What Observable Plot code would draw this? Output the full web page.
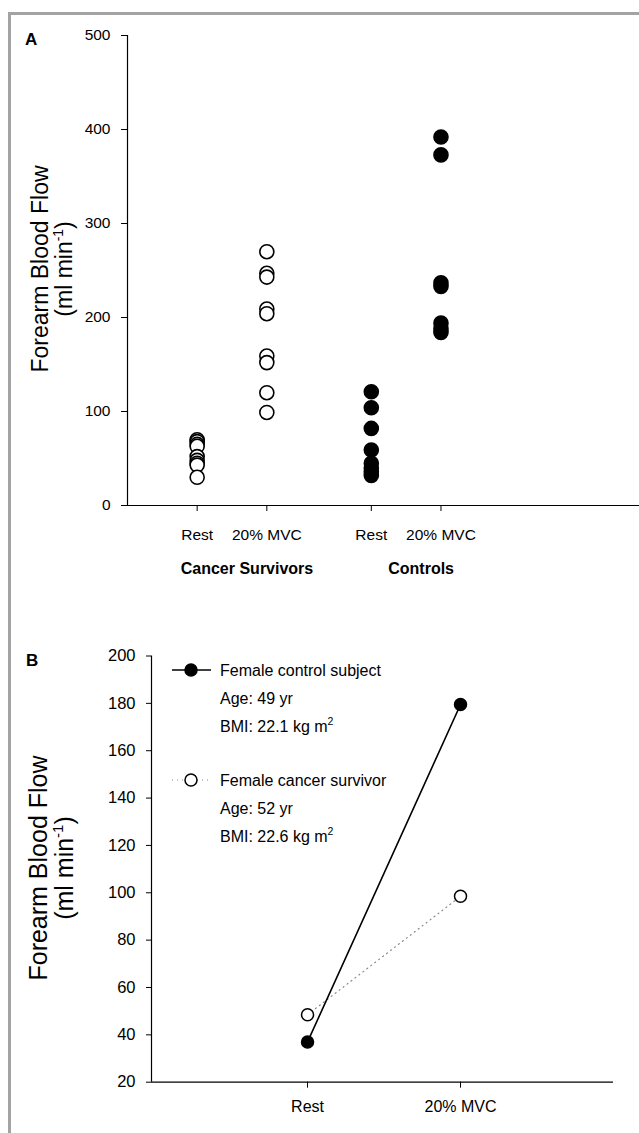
<!DOCTYPE html>
<html><head><meta charset="utf-8">
<script src="https://cdn.jsdelivr.net/npm/d3@7"></script>
<script src="https://cdn.jsdelivr.net/npm/@observablehq/plot@0.6"></script>
<style>
body{margin:0;background:#fff;font-family:"Liberation Sans",Arial,sans-serif}
#page{position:relative;width:639px;height:1133px;overflow:hidden;background:#fff}
#frame{position:absolute;left:8px;top:12px;width:700px;height:1200px;border-left:3px solid #a3a3a3;border-top:3px solid #a3a3a3;box-sizing:border-box}
#a,#b{position:absolute;left:0}
#a{top:0}#b{top:600px}
</style></head>
<body><div id="page"><div id="frame"></div><div id="a"></div><div id="b"></div></div>
<script>
// ---- Panel A data ----
const groups = ["Cancer Survivors", "Controls"];
const conditions = ["Rest", "20% MVC"];
const survivorsRest = [70, 68, 65, 63, 52, 48, 45, 43, 30];
const survivorsMVC = [270, 247, 243, 209, 204, 159, 152, 120, 99];
const controlsRest = [121, 104, 82, 59, 45, 40, 36, 32];
const controlsMVC = [392, 373, 237, 233, 194, 188, 184];
const yTicksA = [0, 100, 200, 300, 400, 500];

// ---- Panel B data ----
const conditionsB = ["Rest", "20% MVC"];
const controlSubject = [37, 179.5];
const survivorSubject = [48.5, 98.5];
const yTicksB = [20, 40, 60, 80, 100, 120, 140, 160, 180, 200];
const legendB = [
  {name: "Female control subject", age: "Age: 49 yr", bmi: "BMI: 22.1 kg m", filled: true},
  {name: "Female cancer survivor", age: "Age: 52 yr", bmi: "BMI: 22.6 kg m", filled: false}
];

const font = "'Liberation Sans', Arial, sans-serif";

function yLabel(svg, x, cy, size) {
  const g = d3.select(svg).append("g").attr("font-family", font).attr("fill", "black").attr("text-anchor", "middle");
  g.append("text").attr("transform", `translate(${x},${cy}) rotate(-90)`)
    .attr("font-size", size).text("Forearm Blood Flow");
  const t = g.append("text").attr("transform", `translate(${x + size * 1.05},${cy}) rotate(-90)`)
    .attr("font-size", size);
  t.append("tspan").text("(ml min");
  t.append("tspan").attr("font-size", size * 0.6).attr("dy", -size * 0.4).text("-1");
  t.append("tspan").attr("dy", size * 0.4).text(")");
}

// ---- Panel A ----
const valuesA = [[survivorsRest, survivorsMVC], [controlsRest, controlsMVC]];
const posOf = (gi, ci) => 1 + ci + 2.5 * gi;
const rowsA = [];
groups.forEach((g, gi) => conditions.forEach((c, ci) =>
  valuesA[gi][ci].forEach(v => rowsA.push({group: g, condition: c, value: v, pos: posOf(gi, ci), filled: gi === 1}))));
const tickPosA = [], tickLabA = new Map();
groups.forEach((g, gi) => conditions.forEach((c, ci) => { tickPosA.push(posOf(gi, ci)); tickLabA.set(posOf(gi, ci), c); }));
const groupRows = groups.map((g, gi) => ({group: g, pos: posOf(gi, 0) + 0.5}));

const chartA = Plot.plot({
  width: 639, height: 600,
  marginLeft: 127, marginRight: 0, marginTop: 35, marginBottom: 95,
  style: {fontFamily: font, fontSize: "15.5px", color: "black", background: "transparent", overflow: "visible"},
  x: {domain: [0, 7.35], axis: null},
  y: {domain: [0, 500], axis: null},
  marks: [
    Plot.axisY({ticks: yTicksA, tickSize: 6, tickPadding: 11, label: null, fontSize: 15.5}),
    Plot.axisX({ticks: tickPosA, tickFormat: d => tickLabA.get(d), tickSize: 6, tickPadding: 17, label: null, fontSize: 15.5}),
    Plot.ruleX([0], {stroke: "black", strokeWidth: 1.2}),
    Plot.ruleY([0], {stroke: "black", strokeWidth: 1.2}),
    Plot.text(groupRows, {x: "pos", y: 0, text: "group", dy: 63, dx: 15, fontWeight: "bold", fontSize: 16, fill: "black"}),
    Plot.dot(rowsA, {x: "pos", y: "value", r: 7, stroke: "black", strokeWidth: 1.6, fill: d => d.filled ? "black" : "white"})
  ]
});
document.getElementById("a").append(chartA);
d3.select(chartA).append("text").attr("x", 25).attr("y", 45).attr("font-family", font)
  .attr("text-anchor", "start").attr("font-weight", "bold").attr("font-size", 17).text("A");
yLabel(chartA, 48, 269, 23);

// ---- Panel B ----
const rowsB = [];
conditionsB.forEach((c, i) => {
  rowsB.push({subject: "control", condition: c, pos: i + 1, value: controlSubject[i]});
  rowsB.push({subject: "survivor", condition: c, pos: i + 1, value: survivorSubject[i]});
});
const ctrl = rowsB.filter(d => d.subject === "control");
const surv = rowsB.filter(d => d.subject === "survivor");

const chartB = Plot.plot({
  width: 639, height: 533,
  marginLeft: 151, marginRight: 26, marginTop: 55.5, marginBottom: 51.3,
  style: {fontFamily: font, fontSize: "16.5px", color: "black", background: "transparent", overflow: "visible"},
  x: {domain: [-0.02, 3], axis: null},
  y: {domain: [20, 200], axis: null},
  marks: [
    Plot.axisY({ticks: yTicksB, tickSize: 5, tickPadding: 11, label: null, fontSize: 16.5}),
    Plot.axisX({ticks: [1, 2], tickFormat: d => conditionsB[d - 1], tickSize: 6, tickPadding: 12, label: null, fontSize: 16}),
    Plot.ruleX([-0.02], {stroke: "black", strokeWidth: 1.2}),
    Plot.ruleY([20], {stroke: "black", strokeWidth: 1.2}),
    Plot.line(surv, {x: "pos", y: "value", stroke: "#888", strokeWidth: 1.2, strokeDasharray: "1,4"}),
    Plot.line(ctrl, {x: "pos", y: "value", stroke: "black", strokeWidth: 1.6}),
    Plot.dot(surv, {x: "pos", y: "value", r: 6, stroke: "black", strokeWidth: 1.5, fill: "white"}),
    Plot.dot(ctrl, {x: "pos", y: "value", r: 6, stroke: "black", strokeWidth: 1.5, fill: "black"})
  ]
});
document.getElementById("b").append(chartB);
const sb = d3.select(chartB);
sb.append("text").attr("x", 26).attr("y", 66).attr("font-family", font).attr("text-anchor", "start")
  .attr("font-weight", "bold").attr("font-size", 17).text("B");
yLabel(chartB, 47, 268, 25);

// legend
legendB.forEach((L, i) => {
  const y0 = 70 + i * 110;
  const g = sb.append("g").attr("font-family", font).attr("font-size", 16).attr("fill", "black").attr("text-anchor", "start");
  g.append("line").attr("x1", 172).attr("x2", 211).attr("y1", y0).attr("y2", y0)
    .attr("stroke", L.filled ? "black" : "#888").attr("stroke-width", L.filled ? 1.6 : 1.2)
    .attr("stroke-dasharray", L.filled ? null : "1,4");
  g.append("circle").attr("cx", 191).attr("cy", y0).attr("r", 6)
    .attr("fill", L.filled ? "black" : "white").attr("stroke", "black").attr("stroke-width", 1.5);
  g.append("text").attr("x", 220).attr("y", y0 + 6).text(L.name);
  g.append("text").attr("x", 220).attr("y", y0 + 34).text(L.age);
  const t = g.append("text").attr("x", 220).attr("y", y0 + 62);
  t.append("tspan").text(L.bmi);
  t.append("tspan").attr("font-size", 10.5).attr("dy", -7).text("2");
});
</script>
</body></html>
